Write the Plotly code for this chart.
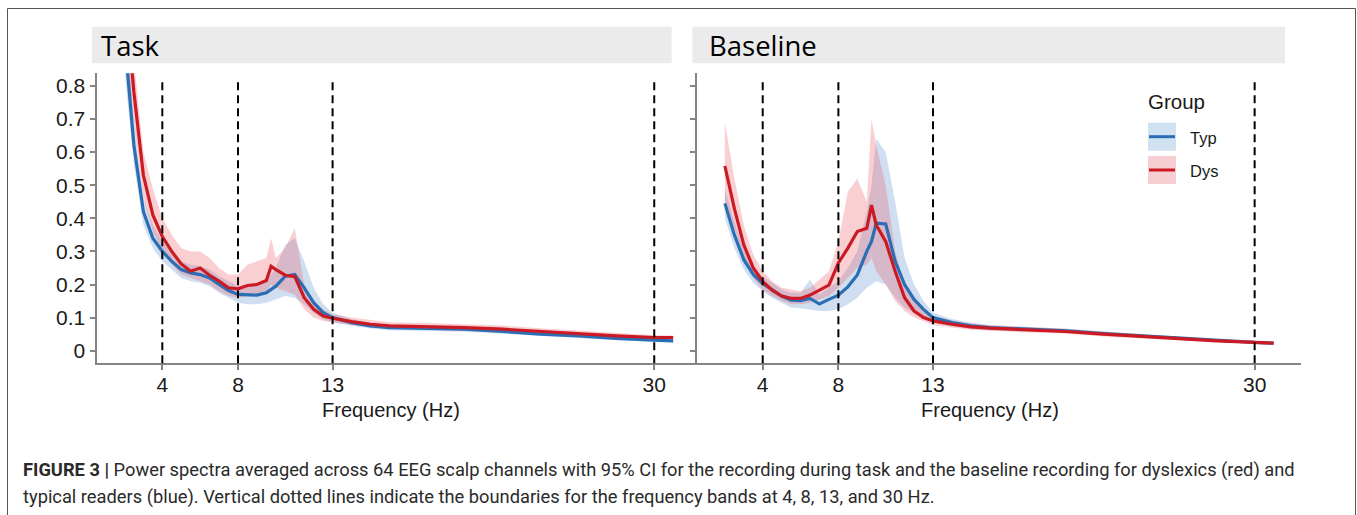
import plotly.graph_objects as go

# ---------------- data ----------------
FREQ = [2, 2.5, 3, 3.5, 4, 4.5, 5, 5.5, 6, 6.5, 7, 7.5, 8, 8.5, 9, 9.5, 9.75, 10,
        10.5, 11, 11.5, 12, 12.5, 13, 14, 15, 16, 18, 20, 22, 24, 26, 28, 30, 31]

TASK_TYP = [0.95, 0.62, 0.42, 0.34, 0.30, 0.27, 0.245, 0.235, 0.23, 0.22, 0.20, 0.182,
            0.17, 0.168, 0.168, 0.175, 0.185, 0.195, 0.225, 0.23, 0.19, 0.145, 0.115,
            0.10, 0.085, 0.075, 0.07, 0.068, 0.065, 0.058, 0.05, 0.045, 0.037, 0.032, 0.030]
TASK_TYP_LO = [0.85, 0.56, 0.38, 0.31, 0.27, 0.245, 0.22, 0.21, 0.205, 0.195, 0.175, 0.16,
               0.145, 0.14, 0.14, 0.145, 0.15, 0.155, 0.165, 0.16, 0.14, 0.115, 0.095,
               0.085, 0.075, 0.067, 0.062, 0.06, 0.057, 0.051, 0.044, 0.039, 0.032, 0.027, 0.025]
TASK_TYP_HI = [1.05, 0.68, 0.46, 0.38, 0.33, 0.295, 0.27, 0.26, 0.255, 0.245, 0.225, 0.21,
               0.195, 0.195, 0.20, 0.21, 0.23, 0.25, 0.32, 0.34, 0.27, 0.19, 0.14,
               0.115, 0.095, 0.085, 0.078, 0.076, 0.073, 0.066, 0.057, 0.051, 0.043, 0.037, 0.035]
TASK_DYS = [1.1, 0.78, 0.53, 0.41, 0.345, 0.30, 0.262, 0.24, 0.25, 0.228, 0.21, 0.19,
            0.187, 0.197, 0.20, 0.212, 0.255, 0.245, 0.228, 0.224, 0.16, 0.125, 0.105,
            0.098, 0.088, 0.08, 0.075, 0.073, 0.07, 0.065, 0.058, 0.052, 0.045, 0.04, 0.04]
TASK_DYS_LO = [0.95, 0.68, 0.46, 0.36, 0.30, 0.26, 0.23, 0.22, 0.21, 0.20, 0.18, 0.165,
               0.16, 0.165, 0.17, 0.175, 0.2, 0.19, 0.18, 0.17, 0.125, 0.10, 0.09,
               0.085, 0.077, 0.07, 0.066, 0.063, 0.06, 0.055, 0.049, 0.044, 0.038, 0.033, 0.032]
TASK_DYS_HI = [1.25, 0.88, 0.60, 0.49, 0.40, 0.35, 0.31, 0.30, 0.30, 0.28, 0.25, 0.23,
               0.23, 0.26, 0.27, 0.28, 0.34, 0.28, 0.31, 0.37, 0.2, 0.15, 0.125,
               0.11, 0.10, 0.092, 0.086, 0.084, 0.081, 0.076, 0.068, 0.061, 0.053, 0.047, 0.046]

BASE_TYP = [0.445, 0.35, 0.275, 0.23, 0.203, 0.183, 0.165, 0.153, 0.151, 0.158, 0.141, 0.155,
            0.168, 0.193, 0.229, 0.30, 0.33, 0.385, 0.383, 0.27, 0.2, 0.155, 0.125,
            0.10, 0.085, 0.075, 0.07, 0.065, 0.06, 0.052, 0.045, 0.038, 0.03, 0.025, 0.023]
BASE_TYP_LO = [0.40, 0.31, 0.245, 0.205, 0.18, 0.16, 0.145, 0.13, 0.128, 0.125, 0.12, 0.12,
               0.125, 0.14, 0.16, 0.19, 0.2, 0.21, 0.2, 0.16, 0.13, 0.115, 0.1,
               0.085, 0.074, 0.066, 0.062, 0.058, 0.054, 0.046, 0.04, 0.033, 0.026, 0.021, 0.019]
BASE_TYP_HI = [0.49, 0.39, 0.305, 0.255, 0.225, 0.205, 0.185, 0.175, 0.175, 0.215, 0.17, 0.19,
               0.21, 0.25, 0.30, 0.42, 0.50, 0.64, 0.60, 0.45, 0.28, 0.2, 0.15,
               0.115, 0.096, 0.085, 0.078, 0.072, 0.067, 0.058, 0.05, 0.043, 0.034, 0.029, 0.027]
BASE_DYS = [0.558, 0.43, 0.32, 0.25, 0.209, 0.183, 0.165, 0.158, 0.158, 0.168, 0.183, 0.198,
            0.265, 0.31, 0.36, 0.37, 0.44, 0.38, 0.33, 0.24, 0.16, 0.12, 0.10,
            0.09, 0.08, 0.072, 0.068, 0.064, 0.058, 0.05, 0.043, 0.036, 0.03, 0.025, 0.023]
BASE_DYS_LO = [0.45, 0.37, 0.28, 0.22, 0.185, 0.165, 0.15, 0.14, 0.14, 0.145, 0.155, 0.165,
               0.19, 0.22, 0.25, 0.26, 0.28, 0.24, 0.2, 0.15, 0.12, 0.1, 0.088,
               0.078, 0.07, 0.063, 0.06, 0.056, 0.051, 0.043, 0.037, 0.031, 0.026, 0.021, 0.019]
BASE_DYS_HI = [0.69, 0.52, 0.38, 0.29, 0.24, 0.21, 0.19, 0.185, 0.18, 0.19, 0.215, 0.24,
               0.33, 0.48, 0.52, 0.45, 0.70, 0.62, 0.5, 0.3, 0.2, 0.155, 0.125,
               0.105, 0.092, 0.082, 0.077, 0.072, 0.066, 0.058, 0.05, 0.042, 0.035, 0.029, 0.028]

BAND_EDGES = [4, 8, 13, 30]
X_TICKS = [4, 8, 13, 30]
Y_TICKS = [0, 0.1, 0.2, 0.3, 0.4, 0.5, 0.6, 0.7, 0.8]
Y_TICK_LABELS = ["0", "0.1", "0.2", "0.3", "0.4", "0.5", "0.6", "0.7", "0.8"]
PANEL_TITLES = ["Task", "Baseline"]
GROUPS = ["Typ", "Dys"]
CAPTION_1 = ("<b>FIGURE 3 |</b> Power spectra averaged across 64 EEG scalp channels with 95% CI "
             "for the recording during task and the baseline recording for dyslexics (red) and")
CAPTION_2 = ("typical readers (blue). Vertical dotted lines indicate the boundaries for the "
             "frequency bands at 4, 8, 13, and 30 Hz.")

# ---------------- styling ----------------
W, H = 1357, 515
BLUE = "#2a6fb5"
RED = "#cc1a24"
BLUE_FILL = "rgba(95,150,210,0.30)"
RED_FILL = "rgba(235,95,105,0.30)"
KEY_BLUE = "#d0e2f2"
KEY_RED = "#f6cfd3"
AXIS_GREY = "#858585"
TXT = "#1a1a1a"
FONT = "Liberation Sans, Arial, sans-serif"


def px(x):
    return x / W


def py(y):
    return 1 - y / H


fig = go.Figure()

panels = [
    ("x", "y", TASK_TYP, TASK_TYP_LO, TASK_TYP_HI, TASK_DYS, TASK_DYS_LO, TASK_DYS_HI),
    ("x2", "y2", BASE_TYP, BASE_TYP_LO, BASE_TYP_HI, BASE_DYS, BASE_DYS_LO, BASE_DYS_HI),
]

for xa, ya, typ, typlo, typhi, dys, dyslo, dyshi in panels:
    for lo, hi, fc in [(typlo, typhi, BLUE_FILL), (dyslo, dyshi, RED_FILL)]:
        fig.add_trace(go.Scatter(x=FREQ, y=lo, mode="lines", line=dict(width=0),
                                 xaxis=xa, yaxis=ya, showlegend=False, hoverinfo="skip"))
        fig.add_trace(go.Scatter(x=FREQ, y=hi, mode="lines", line=dict(width=0),
                                 fill="tonexty", fillcolor=fc,
                                 xaxis=xa, yaxis=ya, showlegend=False, hoverinfo="skip"))
    for vals, col, name in [(typ, BLUE, GROUPS[0]), (dys, RED, GROUPS[1])]:
        fig.add_trace(go.Scatter(x=FREQ, y=vals, mode="lines", name=name,
                                 line=dict(color=col, width=3.2),
                                 xaxis=xa, yaxis=ya, showlegend=False))

# panel geometry
LEFT = (96.6, 697.0)
RIGHT = (697.0, 1301.0)
YDOM = [py(363.3), py(73.3)]

axis_common = dict(showgrid=False, zeroline=False, showline=True, linecolor=AXIS_GREY,
                   linewidth=2.2, ticks="outside", ticklen=5, tickwidth=1.5,
                   tickcolor=AXIS_GREY, tickfont=dict(family=FONT, size=21, color=TXT))

fig.update_layout(
    width=W, height=H,
    margin=dict(l=0, r=0, t=0, b=0),
    paper_bgcolor="white", plot_bgcolor="white",
    showlegend=False,
    xaxis=dict(domain=[px(LEFT[0]), px(LEFT[1])], range=[0.527, 32.26], anchor="y",
               tickvals=X_TICKS, ticktext=[str(t) for t in X_TICKS],
               ticklabelstandoff=-4, **axis_common),
    xaxis2=dict(domain=[px(RIGHT[0]), px(RIGHT[1])], range=[0.527, 32.45], anchor="y2",
                tickvals=X_TICKS, ticktext=[str(t) for t in X_TICKS],
                ticklabelstandoff=-4, **axis_common),
    yaxis=dict(domain=YDOM, range=[-0.038, 0.838], anchor="x",
               tickvals=Y_TICKS, ticktext=Y_TICK_LABELS, **axis_common),
    yaxis2=dict(domain=YDOM, range=[-0.038, 0.838], anchor="x2",
                tickvals=Y_TICKS, showticklabels=False, **axis_common),
)

shapes = []
# outer frame
shapes.append(dict(type="rect", xref="paper", yref="paper", x0=px(7.5), x1=px(1355.5),
                   y0=py(530), y1=py(8.5), line=dict(color="#555555", width=1),
                   fillcolor="rgba(0,0,0,0)", layer="below"))
# strips
for x0, x1 in [(92.0, 671.7), (692.3, 1285.0)]:
    shapes.append(dict(type="rect", xref="paper", yref="paper", x0=px(x0), x1=px(x1),
                       y0=py(63.3), y1=py(26.7), line=dict(width=0), fillcolor="#ebebeb",
                       layer="below"))
# band boundaries
for xr, yr in [("x", "y domain"), ("x2", "y2 domain")]:
    for f in BAND_EDGES:
        shapes.append(dict(type="line", xref=xr, yref=yr, x0=f, x1=f, y0=0, y1=0.975,
                           line=dict(color="black", width=2, dash="8px,5px"), layer="above"))
# legend keys
for (ytop, ybot), fillc, linec in [((122.7, 150.7), KEY_BLUE, BLUE), ((156.0, 184.0), KEY_RED, RED)]:
    shapes.append(dict(type="rect", xref="paper", yref="paper", x0=px(1148), x1=px(1176),
                       y0=py(ybot), y1=py(ytop), line=dict(width=0), fillcolor=fillc))
    ym = (ytop + ybot) / 2
    shapes.append(dict(type="line", xref="paper", yref="paper", x0=px(1149), x1=px(1175),
                       y0=py(ym), y1=py(ym), line=dict(color=linec, width=3)))
fig.update_layout(shapes=shapes)

ann = []
# strip titles
for title, x0 in zip(PANEL_TITLES, [99.0, 707.5]):
    ann.append(dict(text=title, x=px(x0), y=py(45.5), xref="paper", yref="paper",
                    xanchor="left", yanchor="middle", showarrow=False,
                    font=dict(family="Open Sans, sans-serif", size=27.5, color="black")))
# axis titles
for xc in [391.0, 990.0]:
    ann.append(dict(text="Frequency (Hz)", x=px(xc), y=py(410), xref="paper", yref="paper",
                    xanchor="center", yanchor="middle", showarrow=False,
                    font=dict(family=FONT, size=20, color=TXT)))
# legend text
ann.append(dict(text="Group", x=px(1145.5), y=py(102), xref="paper", yref="paper",
                xanchor="left", yanchor="middle", showarrow=False,
                font=dict(family=FONT, size=20.5, color=TXT)))
for g, yc in zip(GROUPS, [138.5, 170.5]):
    ann.append(dict(text=g, x=px(1188), y=py(yc), xref="paper", yref="paper",
                    xanchor="left", yanchor="middle", showarrow=False,
                    font=dict(family=FONT, size=16.5, color=TXT)))
# caption
for txt, yc in [(CAPTION_1, 470), (CAPTION_2, 497)]:
    ann.append(dict(text=txt, x=px(21), y=py(yc), xref="paper", yref="paper",
                    xanchor="left", yanchor="middle", showarrow=False,
                    font=dict(family="Roboto, sans-serif", size=18.3, color="#2a2a2a")))
fig.update_layout(annotations=ann)

fig.write_html("out.html")
